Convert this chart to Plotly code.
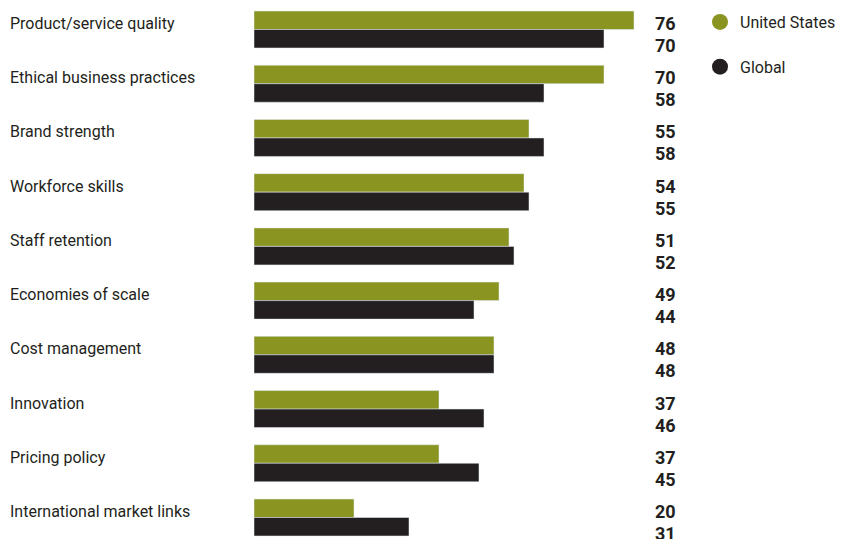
import plotly.graph_objects as go

categories = ["Product/service quality", "Ethical business practices", "Brand strength",
              "Workforce skills", "Staff retention", "Economies of scale",
              "Cost management", "Innovation", "Pricing policy",
              "International market links"]
us_values = [76, 70, 55, 54, 51, 49, 48, 37, 37, 20]
global_values = [70, 58, 58, 55, 52, 44, 48, 46, 45, 31]
series_names = ["United States", "Global"]

GREEN = "#8a9420"
DARK = "#231f20"
FONT = "Liberation Sans Narrow, Arial Narrow, Roboto, sans-serif"

W, H = 851, 539
L = 254
PW = 500

fig = go.Figure()
fig.add_trace(go.Bar(y=categories, x=us_values, orientation="h", marker_color=GREEN,
                     name=series_names[0], showlegend=False, hoverinfo="skip"))
fig.add_trace(go.Bar(y=categories, x=global_values, orientation="h", marker_color=DARK,
                     name=series_names[1], showlegend=False, hoverinfo="skip"))
# legend markers
for nm, col in zip(series_names, [GREEN, DARK]):
    fig.add_trace(go.Scatter(x=[None], y=[None], mode="markers", name=nm,
                             legendgroup=nm,
                             marker=dict(size=18, color=col, symbol="circle")))

annotations = []
for cat, u, g in zip(categories, us_values, global_values):
    annotations.append(dict(x=(8 - L) / PW, xref="paper", y=cat, yref="y",
                            text=cat, showarrow=False, xanchor="left", yanchor="middle",
                            yshift=6, font=dict(family=FONT, size=16, color=DARK)))
    annotations.append(dict(x=(678 - L) / PW, xref="paper", y=cat, yref="y",
                            text="<b>%d</b>" % u, showarrow=False, xanchor="right",
                            yanchor="middle", yshift=6,
                            font=dict(family=FONT, size=18, color=DARK)))
    annotations.append(dict(x=(678 - L) / PW, xref="paper", y=cat, yref="y",
                            text="<b>%d</b>" % g, showarrow=False, xanchor="right",
                            yanchor="middle", yshift=-16,
                            font=dict(family=FONT, size=18, color=DARK)))

spacing = 488 / 9
r0 = -29.5 / spacing
r1 = r0 + H / spacing

fig.update_layout(
    width=W, height=H,
    margin=dict(l=L, r=W - L - PW, t=0, b=0, pad=0),
    paper_bgcolor="white", plot_bgcolor="white",
    barmode="group", bargap=0.318, bargroupgap=0,
    xaxis=dict(range=[0, PW / 5], visible=False, fixedrange=True),
    yaxis=dict(range=[r1, r0], visible=False, type="category", fixedrange=True),
    showlegend=True,
    legend=dict(x=(700 - L) / PW, xanchor="left", y=1 - 5 / H, yanchor="top",
                xref="paper", yref="paper", tracegroupgap=21,
                traceorder="grouped",
                font=dict(family=FONT, size=16, color=DARK),
                bgcolor="rgba(0,0,0,0)"),
    annotations=annotations,
    font=dict(family=FONT, color=DARK),
)

fig.write_html("out.html", config={"displayModeBar": False},
               post_script="document.body.style.margin='0';")
